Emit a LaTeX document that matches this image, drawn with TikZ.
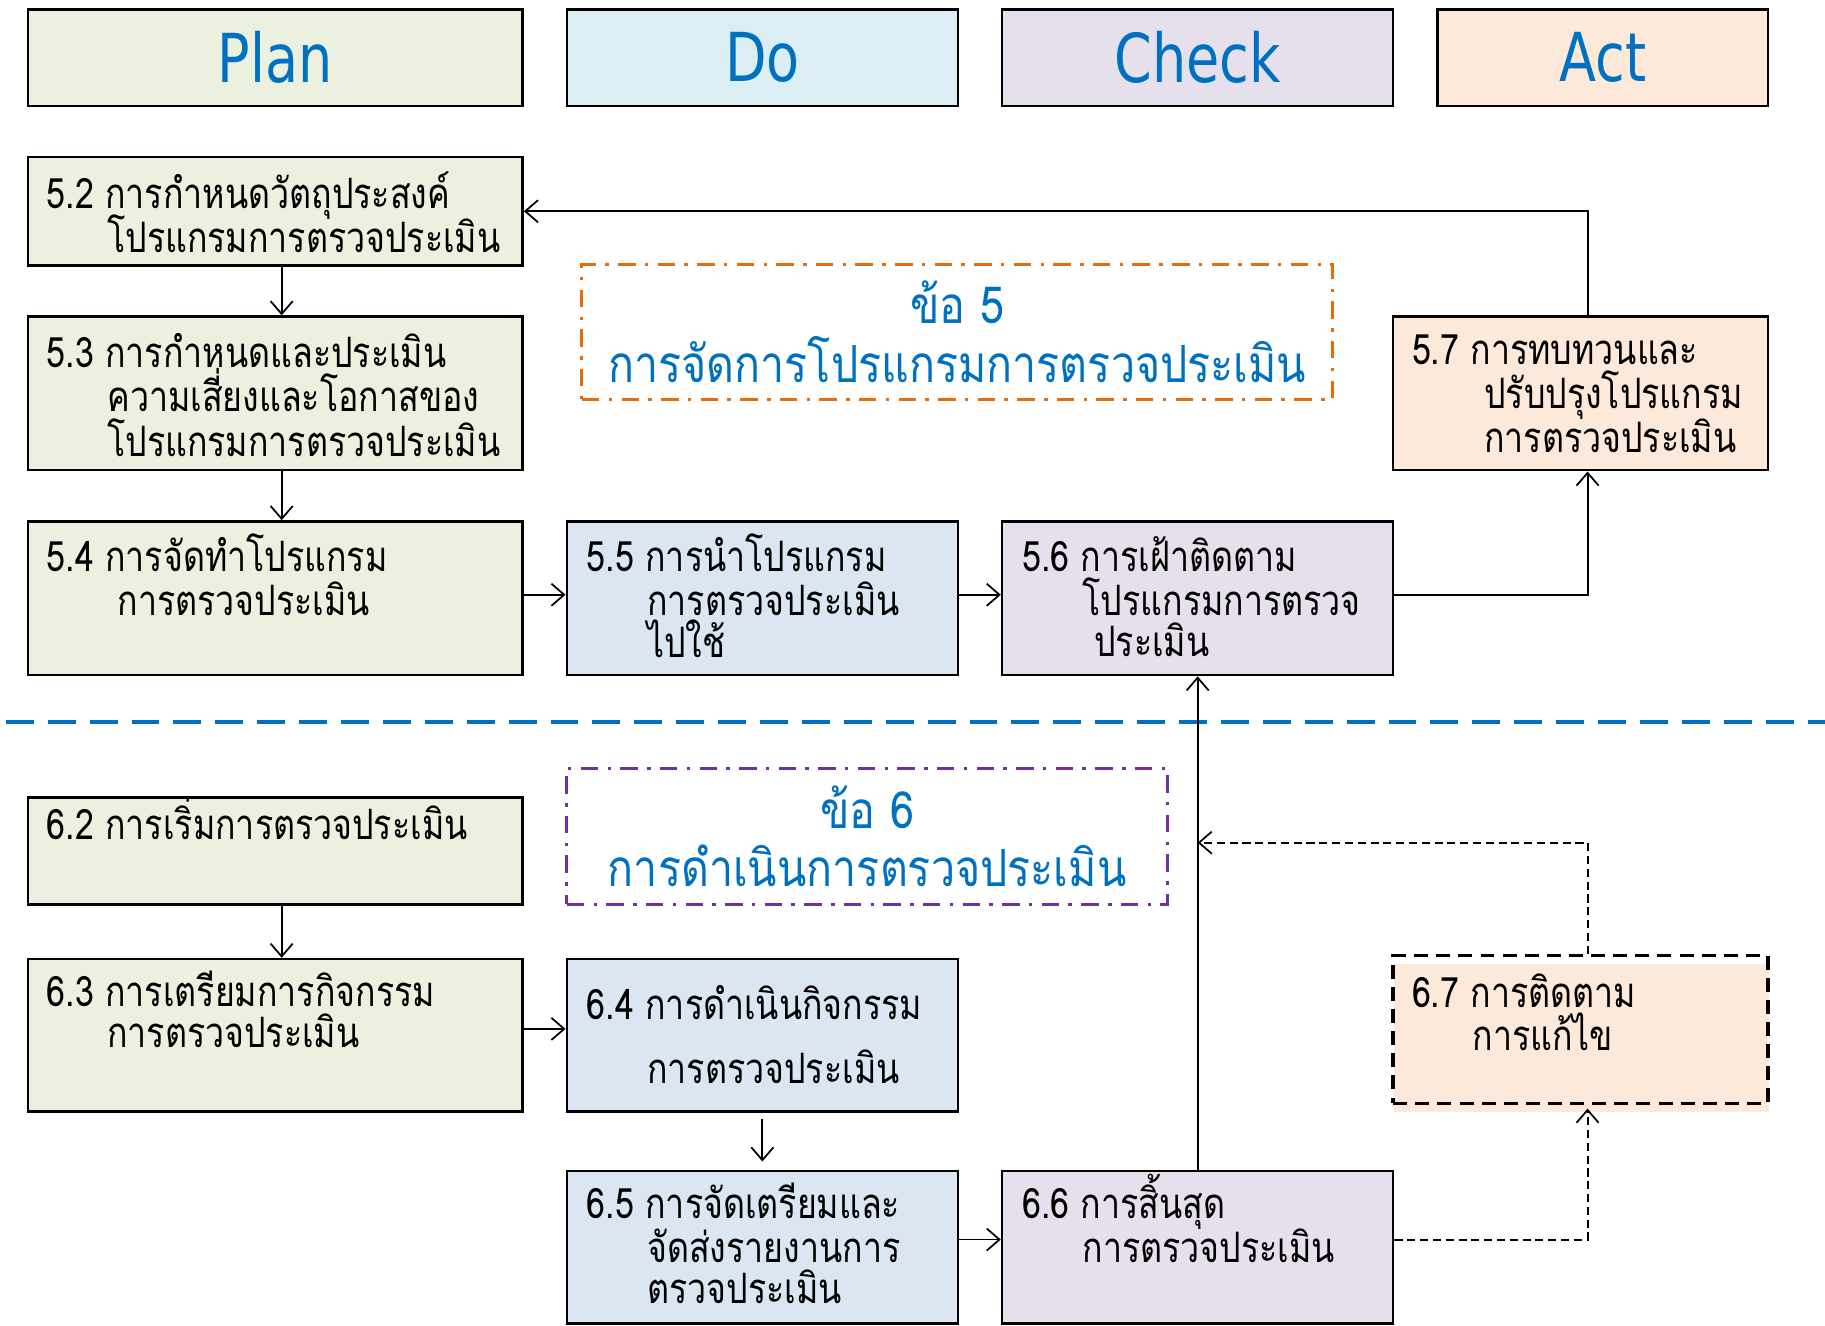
\documentclass[tikz,border=0pt]{standalone}
\usepackage{fontspec}
\usetikzlibrary{arrows.meta}
\newfontfamily\thaifont[Script=Thai,FakeStretch=0.81]{Loma}
\newfontfamily\thaibig[Script=Thai,FakeStretch=0.84]{Loma}
\newfontfamily\titlefont[FakeStretch=0.8]{DejaVu Sans}
\newcommand{\tightlns}{\lineskiplimit=-100pt\relax\lineskip=0pt\relax}
\definecolor{myblue}{HTML}{0070C0}
\definecolor{planfill}{HTML}{EBF1DE}
\definecolor{dotitle}{HTML}{DBEEF4}
\definecolor{dofill}{HTML}{DCE6F2}
\definecolor{checkfill}{HTML}{E5E0EC}
\definecolor{actfill}{HTML}{FDE9D9}
\definecolor{myorange}{HTML}{E46C0A}
\definecolor{mypurple}{HTML}{7030A0}
\tikzset{
  box/.style={draw=black, line width=2.2pt, rectangle, inner sep=0pt},
  arr/.style={-{Straight Barb[length=11pt,width=19pt,line width=1.5pt]}, line width=1.6pt},
  dsh/.style={dash pattern=on 7pt off 4pt, line width=1.8pt},
  txt/.style={anchor=north west, inner sep=0pt, align=left,
     font=\thaifont\fontsize{36}{38}\selectfont\tightlns},
  ttl/.style={font=\titlefont\fontsize{58}{60}\selectfont, text=myblue},
  kbox/.style={line width=2.6pt, dash pattern=on 15pt off 8pt on 3pt off 8pt, align=center, text=myblue,
     font=\thaibig\fontsize{44}{50}\selectfont\tightlns, inner sep=0pt},
}
\begin{document}
\begin{tikzpicture}[x=1pt,y=-1pt]
\useasboundingbox (0,0) rectangle (1568,1139);
% titles
\node[box,ttl,fill=planfill,minimum width=425pt,minimum height=83pt] (plan) at (236.5,49.5) {Plan};
\node[box,ttl,fill=dotitle,minimum width=336pt,minimum height=83pt] (do) at (655,49.5) {Do};
\node[box,ttl,fill=checkfill,minimum width=336pt,minimum height=83pt] (check) at (1029,49.5) {Check};
\node[box,ttl,fill=actfill,minimum width=284pt,minimum height=83pt] (act) at (1377,49.5) {Act};
% clause 5 boxes
\node[box,fill=planfill,minimum width=425pt,minimum height=93pt] (b52) at (236.5,181.5) {};
\node[box,fill=planfill,minimum width=425pt,minimum height=132pt] (b53) at (236.5,338) {};
\node[box,fill=planfill,minimum width=425pt,minimum height=132pt] (b54) at (236.5,514) {};
\node[box,fill=dofill,minimum width=336pt,minimum height=132pt] (b55) at (655,514) {};
\node[box,fill=checkfill,minimum width=336pt,minimum height=132pt] (b56) at (1029,514) {};
\node[box,fill=actfill,minimum width=322pt,minimum height=132pt] (b57) at (1358,338) {};
\node[kbox,draw=myorange,minimum width=645pt,minimum height=116pt] (k5) at (822.5,285) {ข้อ 5\\การจัดการโปรแกรมการตรวจประเมิน};
% clause 6 boxes
\node[box,fill=planfill,minimum width=425pt,minimum height=92pt] (b62) at (236.5,731) {};
\node[box,fill=planfill,minimum width=425pt,minimum height=131pt] (b63) at (236.5,889.5) {};
\node[box,fill=dofill,minimum width=336pt,minimum height=131pt] (b64) at (655,889.5) {};
\node[box,fill=dofill,minimum width=336pt,minimum height=131pt] (b65) at (655,1071.5) {};
\node[box,fill=checkfill,minimum width=336pt,minimum height=131pt] (b66) at (1029,1071.5) {};
\fill[actfill] (1198,828) rectangle (1520,955);
\node[draw=black,line width=3pt,dash pattern=on 12pt off 7pt,minimum width=322pt,minimum height=127pt,inner sep=0pt] (b67) at (1358,884.5) {};
\node[kbox,draw=mypurple,minimum width=516pt,minimum height=117pt] (k6) at (745,718.5) {ข้อ 6\\การดำเนินการตรวจประเมิน};
% separator
\coordinate (sepl) at (5,620);
\coordinate (sepr) at (1568,620);
\draw[myblue,line width=3.5pt,dash pattern=on 24pt off 12pt] (sepl) -- (sepr);
% texts
\node[txt] (t52) at (40,147.4) {\strut 5.2 การกำหนดวัตถุประสงค์\\\hspace*{52pt}\strut โปรแกรมการตรวจประเมิน};
\node[txt] (t53) at (40,286.4) {\strut 5.3 การกำหนดและประเมิน\\\hspace*{52pt}\strut ความเสี่ยงและโอกาสของ\\\hspace*{52pt}\strut โปรแกรมการตรวจประเมิน};
\node[txt] (t54) at (40,458.4) {\strut 5.4 การจัดทำโปรแกรม\\\hspace*{61pt}\strut การตรวจประเมิน};
\node[txt] (t55) at (504,458.4) {\strut 5.5 การนำโปรแกรม\\\hspace*{52pt}\strut การตรวจประเมิน\\[-2pt]\hspace*{52pt}\strut ไปใช้};
\node[txt] (t56) at (878,460.4) {\strut 5.6 การเฝ้าติดตาม\\\hspace*{52pt}\strut โปรแกรมการตรวจ\\[-3pt]\hspace*{62pt}\strut ประเมิน};
\node[txt] (t57) at (1213,286.4) {\strut 5.7 การทบทวนและ\\\hspace*{62pt}\strut ปรับปรุงโปรแกรม\\\hspace*{62pt}\strut การตรวจประเมิน};
\node[txt] (t62) at (40,684.4) {\strut 6.2 การเริ่มการตรวจประเมิน};
\node[txt] (t63) at (40,834.4) {\strut 6.3 การเตรียมการกิจกรรม\\[-3pt]\hspace*{52pt}\strut การตรวจประเมิน};
\node[txt] (t64) at (504,846.4) {\strut 6.4 การดำเนินกิจกรรม\\[17pt]\hspace*{52pt}\strut การตรวจประเมิน};
\node[txt] (t65) at (504,1016.4) {\strut 6.5 การจัดเตรียมและ\\\hspace*{52pt}\strut จัดส่งรายงานการ\\[-3pt]\hspace*{52pt}\strut ตรวจประเมิน};
\node[txt] (t66) at (878,1008.4) {\strut 6.6 การสิ้นสุด\\\hspace*{52pt}\strut การตรวจประเมิน};
\node[txt] (t67) at (1213,836.4) {\strut 6.7 การติดตาม\\[-1pt]\hspace*{52pt}\strut การแก้ไข};
% connectors clause 5
\draw[arr] ([xshift=5.5pt]b52.south) -- ([xshift=5.5pt]b53.north);
\draw[arr] ([xshift=5.5pt]b53.south) -- ([xshift=5.5pt]b54.north);
\draw[arr] ([yshift=3pt]b54.east) -- ([yshift=3pt]b55.west);
\draw[arr] ([yshift=3pt]b55.east) -- ([yshift=3pt]b56.west);
\draw[arr] ([yshift=3pt]b56.east) -| ([xshift=6pt]b57.south);
\draw[arr] ([xshift=6pt]b57.north) |- (b52.east);
\draw[arr] (b66.north) -- (b56.south);
% connectors clause 6
\coordinate (j) at (1029,724);
\draw[arr] ([xshift=5.5pt]b62.south) -- ([xshift=5.5pt]b63.north);
\draw[arr] ([yshift=5.5pt]b63.east) -- ([yshift=5.5pt]b64.west);
\draw[arr] ([yshift=-5pt]b64.south) -- ([yshift=7pt]b65.north);
\draw[arr] ([yshift=6.5pt]b65.east) -- ([yshift=6.5pt]b66.west);
\draw[arr,dsh] ([xshift=6pt]b67.north) |- (j);
\draw[arr,dsh] ([yshift=6.5pt]b66.east) -| ([xshift=6pt,yshift=-3pt]b67.south);
\end{tikzpicture}
\end{document}
